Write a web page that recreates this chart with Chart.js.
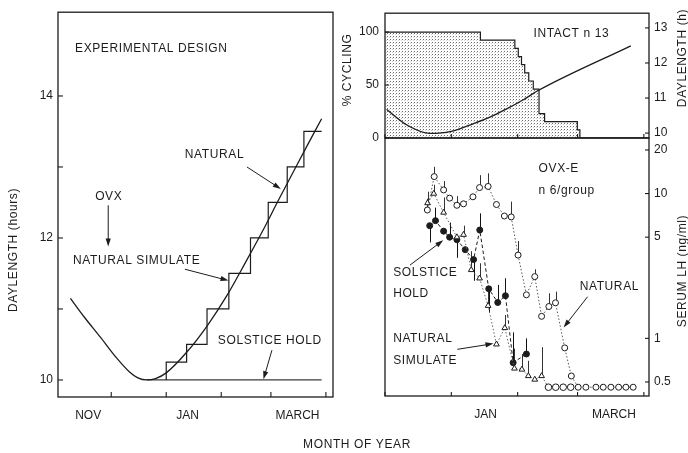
<!DOCTYPE html>
<html><head><meta charset="utf-8">
<script src="https://cdn.jsdelivr.net/npm/chart.js@4.4.0/dist/chart.umd.min.js"></script>
<style>
html,body{margin:0;padding:0;background:#fff;}
#wrap{position:relative;width:688px;height:453px;background:#fff;}
canvas{position:absolute;left:0;top:0;}
</style></head><body>
<div id="wrap">
<canvas id="cA" width="688" height="453"></canvas>
<canvas id="cB" width="688" height="453"></canvas>
<canvas id="cC" width="688" height="453"></canvas>
</div>
<script>
// x values: days counted from 1 November
const monthStarts = [30, 61, 92, 120, 151];          // Dec 1, Jan 1, Feb 1, Mar 1, Apr 1
const leftMonthLabels = ['NOV', 'JAN', 'MARCH'];
const leftMonthLabelDays = [17, 73, 135];
const rightMonthLabels = ['JAN', 'MARCH'];
const rightMonthLabelDays = [77, 137];

// ---- Left panel: experimental design (daylength, hours) ----
const naturalDays  = [7, 15, 24, 33, 40, 45, 50, 55, 61, 72.5, 84, 95, 106, 116, 124, 132, 140, 148.6];
const naturalHours = [11.15, 10.88, 10.6, 10.31, 10.12, 10.03, 10.0, 10.02, 10.1, 10.39, 10.76, 11.18, 11.67, 12.13, 12.52, 12.9, 13.28, 13.68];
const simStepDays  = [61, 61, 72.5, 84, 96.3, 108.5, 118.5, 129.2, 138.6, 148.6];
const simStepHours = [10, 10.25, 10.5, 11.0, 11.5, 12.0, 12.5, 13.0, 13.5, 13.5];
const holdDays  = [50, 148.6];
const holdHours = [10, 10];
const leftYTicks = [10, 11, 12, 13, 14];
const leftYLabels = [10, 12, 14];

// ---- Top right: intact ewes, % cycling and daylength ----
const cyclingDays = [30, 74.6, 90.7, 92.3, 93.8, 95.3, 97.2, 99.3, 102, 104.6, 119.9, 121.1, 153.4];
const cyclingPct  = [100, 92.3, 84.6, 76.9, 69.2, 61.5, 53.8, 46.2, 23.1, 15.4, 7.7, 0, 0];
const intactDays  = [30.8, 40.2, 51.1, 60.5, 71.4, 79.3, 87.1, 94.9, 101.2, 144.9];
const intactHours = [10.67, 10.23, 9.99, 10.04, 10.27, 10.46, 10.70, 10.96, 11.2, 12.49];
const cyclingTicks = [0, 50, 100];
const dayTicksRight = [10, 11, 12, 13];

// ---- Bottom right: OVX-E serum LH (ng/ml) ----
const natDays = [49.8, 53, 57.4, 60.2, 63.6, 66.7, 71.1, 74.2, 78.2, 82.1, 85.8, 89, 92.2, 96.1, 100, 103.2, 106.6, 109.7, 114, 117.1, 120.3, 123.9, 128.6, 132, 135.6, 139.2, 142.6, 146];
const natLH   = [7.7, 13.1, 10.6, 9.3, 8.3, 8.5, 9.5, 11.0, 11.2, 8.4, 7.0, 6.9, 3.76, 2.0, 2.67, 1.42, 1.66, 1.76, 0.86, 0.55, 0.46, 0.46, 0.46, 0.46, 0.46, 0.46, 0.46, 0.46];
const natErr  = [9.2, 15.3, 12.2, null, 9.6, null, null, 13.4, 13.8, null, null, 8.8, 4.7, null, 3.0, null, 2.05, 2.1, null, null, null, null, null, null, null, null, null, null];
const simDays = [49.9, 52.8, 57.4, 63.6, 66.7, 70.3, 74.2, 78.2, 82.1, 86, 90.5, 94, 97, 100, 103.2, 106.4, 109.8, 113.3, 116.8];
const simLH   = [8.6, 10.0, 7.4, 5.0, 5.2, 2.97, 2.6, 1.68, 0.91, 1.18, 0.62, 0.61, 0.55, 0.52, 0.55, 0.46, 0.46, 0.46, 0.46];
const simErr  = [10.3, 11.5, 9.4, null, 6.0, 4.0, 3.3, 2.2, null, 1.45, 0.85, 0.78, 0.7, null, 0.87, null, null, null, null];
const holdLHDays = [50.9, 53.6, 57.4, 60.2, 63.6, 67.5, 71.4, 74.3, 78.5, 82.7, 86.3, 89.9, 96.1];
const holdLH     = [6.0, 6.5, 5.5, 5.0, 4.8, 4.1, 3.5, 5.6, 2.2, 1.77, 1.97, 0.68, 0.78];
const holdErr    = [4.6, 8.0, null, 6.3, 3.6, null, 2.5, 7.3, 1.5, 2.34, 2.6, 1.1, 1.0];
const lhTicks = [0.5, 1, 5, 10, 20];

// ---------------------------------------------------------
const INK = '#1c1c1c';
const FAMILY = "'Liberation Sans', Arial, sans-serif";
const FONT = "12px " + FAMILY;
Chart.defaults.font.family = FAMILY;
Chart.defaults.font.size = 12;
Chart.defaults.color = INK;

const pts = (xs, ys) => xs.map((x, i) => ({x: x, y: ys[i]}));

function dotPattern() {
  const c = document.createElement('canvas'); c.width = 3; c.height = 3;
  const g = c.getContext('2d');
  g.fillStyle = '#ffffff'; g.fillRect(0, 0, 3, 3);
  g.fillStyle = '#6a6a6a'; g.fillRect(0, 0, 1, 1);
  g.fillStyle = '#cfcfcf'; g.fillRect(2, 1, 1, 1);
  return g.createPattern(c, 'repeat');
}

const deco = {
  id: 'deco',
  beforeDatasetsDraw(chart, args, opts) {
    const ctx = chart.ctx;
    (opts.errorBars || []).forEach(eb => {
      const xs = chart.scales.x, ys = chart.scales[eb.yAxis || 'y'];
      ctx.save(); ctx.strokeStyle = eb.color || INK; ctx.lineWidth = 1;
      eb.days.forEach((d, i) => {
        const e = eb.ends[i]; if (e == null) return;
        const x = Math.round(xs.getPixelForValue(d)) + 0.5;
        ctx.beginPath();
        ctx.moveTo(x, ys.getPixelForValue(eb.values[i]));
        ctx.lineTo(x, ys.getPixelForValue(e));
        ctx.stroke();
      });
      ctx.restore();
    });
  },
  afterDraw(chart, args, opts) {
    const ctx = chart.ctx, a = chart.chartArea;
    ctx.save();
    ctx.strokeStyle = INK; ctx.lineWidth = 1.3;
    ctx.strokeRect(a.left, a.top, a.right - a.left, a.bottom - a.top);
    ctx.lineWidth = 1.1;
    (opts.ticks || []).forEach(t => {
      const s = chart.scales[t.axis];
      t.values.forEach(v => {
        const p = s.getPixelForValue(v);
        ctx.beginPath();
        if (t.side === 'bottom') { ctx.moveTo(p, a.bottom); ctx.lineTo(p, a.bottom - t.len); }
        else if (t.side === 'left') { ctx.moveTo(a.left, p); ctx.lineTo(a.left + t.len, p); }
        else { ctx.moveTo(a.right, p); ctx.lineTo(a.right - t.len, p); }
        ctx.stroke();
      });
    });
    ctx.fillStyle = INK; ctx.font = FONT; ctx.textBaseline = 'middle';
    try { ctx.letterSpacing = '0.6px'; } catch (e) {}
    (opts.labels || []).forEach(l => {
      const xs = chart.scales.x, ys = chart.scales[l.yAxis || 'y'];
      ctx.textAlign = l.align || 'left';
      ctx.fillText(l.text, xs.getPixelForValue(l.x), ys.getPixelForValue(l.y));
    });
    ctx.lineWidth = 1;
    (opts.arrows || []).forEach(r => {
      const xs = chart.scales.x, ys = chart.scales[r.yAxis || 'y'];
      const x1 = xs.getPixelForValue(r.x1), y1 = ys.getPixelForValue(r.y1);
      const x2 = xs.getPixelForValue(r.x2), y2 = ys.getPixelForValue(r.y2);
      const ang = Math.atan2(y2 - y1, x2 - x1), L = 8, W = 2.6;
      ctx.beginPath(); ctx.moveTo(x1, y1);
      ctx.lineTo(x2 - Math.cos(ang) * (L - 1), y2 - Math.sin(ang) * (L - 1)); ctx.stroke();
      ctx.beginPath(); ctx.moveTo(x2, y2);
      ctx.lineTo(x2 - L * Math.cos(ang) - W * Math.sin(ang), y2 - L * Math.sin(ang) + W * Math.cos(ang));
      ctx.lineTo(x2 - L * Math.cos(ang) + W * Math.sin(ang), y2 - L * Math.sin(ang) - W * Math.cos(ang));
      ctx.closePath(); ctx.fill();
    });
    (opts.titles || []).forEach(t => {
      ctx.save(); ctx.translate(t.px, t.py); if (t.rotate) ctx.rotate(-Math.PI / 2);
      ctx.textAlign = 'center'; ctx.fillText(t.text, 0, 0); ctx.restore();
    });
    ctx.restore();
  }
};

const baseOpts = (padding) => ({
  responsive: false, animation: false, devicePixelRatio: 1,
  layout: { padding: padding },
  elements: { line: { tension: 0 } }
});
const noGrid = { display: false, drawTicks: false };
const setTicks = (vals) => (s) => { s.ticks = vals.map(v => ({ value: v })); };

// ---------------- Chart A (left) ----------------
new Chart(document.getElementById('cA'), {
  type: 'line',
  data: { datasets: [
    { label: 'Natural', data: pts(naturalDays, naturalHours), borderColor: INK, borderWidth: 1.3, pointRadius: 0, cubicInterpolationMode: 'monotone' },
    { label: 'Natural simulate', data: pts(simStepDays, simStepHours), stepped: 'before', borderColor: INK, borderWidth: 1.2, pointRadius: 0 },
    { label: 'Solstice hold', data: pts(holdDays, holdHours), borderColor: '#3a3a3a', borderWidth: 1.3, pointRadius: 0 }
  ]},
  options: Object.assign(baseOpts({ left: 0, top: 12, right: 355, bottom: 16 }), {
    plugins: { legend: { display: false }, tooltip: { enabled: false },
      deco: {
        ticks: [ { axis: 'y', side: 'left', len: 5, values: leftYTicks },
                 { axis: 'x', side: 'bottom', len: 5, values: monthStarts } ],
        labels: [
          { text: 'EXPERIMENTAL DESIGN', x: 9.6, y: 14.67 },
          { text: 'OVX', x: 28.6, y: 12.58, align: 'center' },
          { text: 'NATURAL', x: 71.5, y: 13.17 },
          { text: 'NATURAL SIMULATE', x: 8.5, y: 11.68 },
          { text: 'SOLSTICE HOLD', x: 90.1, y: 10.56 }
        ],
        arrows: [
          { x1: 28.3, y1: 12.46, x2: 28.3, y2: 11.88 },
          { x1: 106.5, y1: 13.0, x2: 125.6, y2: 12.69 },
          { x1: 71.5, y1: 11.56, x2: 96.1, y2: 11.40 },
          { x1: 120.6, y1: 10.42, x2: 115.8, y2: 10.01 }
        ],
        titles: [
          { text: 'DAYLENGTH (hours)', px: 14, py: 250, rotate: true },
          { text: 'MONTH OF YEAR', px: 357, py: 445 }
        ]
      }
    },
    scales: {
      x: { type: 'linear', min: 0, max: 155, grid: noGrid, border: { display: false },
           afterBuildTicks: setTicks(leftMonthLabelDays),
           afterFit: s => { s.height = 40; },
           ticks: { autoSkip: false, maxRotation: 0, padding: 11, callback: (v, i) => leftMonthLabels[i] } },
      y: { type: 'linear', min: 9.76, max: 15.18, grid: noGrid, border: { display: false },
           afterBuildTicks: setTicks(leftYLabels),
           afterFit: s => { s.width = 58; },
           ticks: { padding: 5, callback: v => String(v) } }
    }
  }),
  plugins: [deco]
});

// ---------------- Chart B (top right) ----------------
new Chart(document.getElementById('cB'), {
  type: 'line',
  data: { datasets: [
    { label: 'Daylength (h)', data: pts(intactDays, intactHours), yAxisID: 'y2', borderColor: INK, borderWidth: 1.3, pointRadius: 0, cubicInterpolationMode: 'monotone' },
    { label: '% cycling', data: pts(cyclingDays, cyclingPct), yAxisID: 'y', stepped: 'before', borderColor: INK, borderWidth: 1.2, pointRadius: 0,
      fill: 'origin', backgroundColor: dotPattern() }
  ]},
  options: Object.assign(baseOpts({ left: 340, top: 12, right: 9, bottom: 315 }), {
    plugins: { legend: { display: false }, tooltip: { enabled: false },
      deco: {
        ticks: [ { axis: 'y', side: 'left', len: 4, values: cyclingTicks },
                 { axis: 'y2', side: 'right', len: 4, values: dayTicksRight },
                 { axis: 'x', side: 'bottom', len: 4, values: monthStarts } ],
        labels: [ { text: 'INTACT n 13', x: 99.4, y: 98 } ],
        titles: [
          { text: '% CYCLING', px: 348, py: 70, rotate: true },
          { text: 'DAYLENGTH (h)', px: 683, py: 58, rotate: true }
        ]
      }
    },
    scales: {
      x: { type: 'linear', min: 30, max: 153.4, display: false },
      y: { type: 'linear', position: 'left', min: 0, max: 117.8, grid: noGrid, border: { display: false },
           afterBuildTicks: setTicks(cyclingTicks),
           afterFit: s => { s.width = 45; },
           ticks: { padding: 6, callback: v => String(v) } },
      y2: { type: 'linear', position: 'right', min: 9.86, max: 13.42, grid: noGrid, border: { display: false },
           afterBuildTicks: setTicks(dayTicksRight),
           afterFit: s => { s.width = 30; },
           ticks: { padding: 5, callback: v => String(v) } }
    }
  }),
  plugins: [deco]
});

// ---------------- Chart C (bottom right) ----------------
new Chart(document.getElementById('cC'), {
  type: 'line',
  data: { datasets: [
    { label: 'Natural', data: pts(natDays, natLH), borderColor: '#555', borderWidth: 1, borderDash: [1.5, 2],
      pointStyle: 'circle', pointRadius: 3, pointBackgroundColor: '#fff', pointBorderColor: INK, pointBorderWidth: 1 },
    { label: 'Natural simulate', data: pts(simDays, simLH), borderColor: '#666', borderWidth: 1, borderDash: [1.5, 2],
      pointStyle: c => (c.raw && c.raw.y <= 0.5 ? 'circle' : 'triangle'), pointRadius: 3.3, pointBackgroundColor: '#fff', pointBorderColor: INK, pointBorderWidth: 1 },
    { label: 'Solstice hold', data: pts(holdLHDays, holdLH), borderColor: INK, borderWidth: 1, borderDash: [3.5, 2.5],
      pointStyle: 'circle', pointRadius: 3, pointBackgroundColor: INK, pointBorderColor: INK, pointBorderWidth: 1 }
  ]},
  options: Object.assign(baseOpts({ left: 385, top: 138, right: 9, bottom: 17 }), {
    plugins: { legend: { display: false }, tooltip: { enabled: false },
      deco: {
        errorBars: [
          { days: natDays, values: natLH, ends: natErr, color: '#333' },
          { days: simDays, values: simLH, ends: simErr, color: '#333' },
          { days: holdLHDays, values: holdLH, ends: holdErr, color: '#111' }
        ],
        ticks: [ { axis: 'y', side: 'right', len: 4, values: lhTicks },
                 { axis: 'x', side: 'bottom', len: 4, values: monthStarts } ],
        labels: [
          { text: 'OVX-E', x: 101.8, y: 14.8 },
          { text: 'n 6/group', x: 101.8, y: 10.5 },
          { text: 'SOLSTICE', x: 33.8, y: 2.83 },
          { text: 'HOLD', x: 33.8, y: 2.03 },
          { text: 'NATURAL', x: 121, y: 2.27 },
          { text: 'NATURAL', x: 33.8, y: 1.0 },
          { text: 'SIMULATE', x: 33.8, y: 0.70 }
        ],
        arrows: [
          { x1: 41.7, y1: 3.21, x2: 57.2, y2: 4.76 },
          { x1: 124.7, y1: 1.94, x2: 113.5, y2: 1.19 },
          { x1: 63.8, y1: 0.84, x2: 80.7, y2: 0.92 }
        ],
        titles: [ { text: 'SERUM LH (ng/ml)', px: 683, py: 271, rotate: true } ]
      }
    },
    scales: {
      x: { type: 'linear', min: 30, max: 153.4, grid: noGrid, border: { display: false },
           afterBuildTicks: setTicks(rightMonthLabelDays),
           afterFit: s => { s.height = 40; },
           ticks: { autoSkip: false, maxRotation: 0, padding: 11, callback: (v, i) => rightMonthLabels[i] } },
      y: { type: 'logarithmic', position: 'right', min: 0.40, max: 24.2, grid: noGrid, border: { display: false },
           afterBuildTicks: setTicks(lhTicks),
           afterFit: s => { s.width = 30; },
           ticks: { padding: 5, callback: v => String(v) } }
    }
  }),
  plugins: [deco]
});
</script>
</body></html>
